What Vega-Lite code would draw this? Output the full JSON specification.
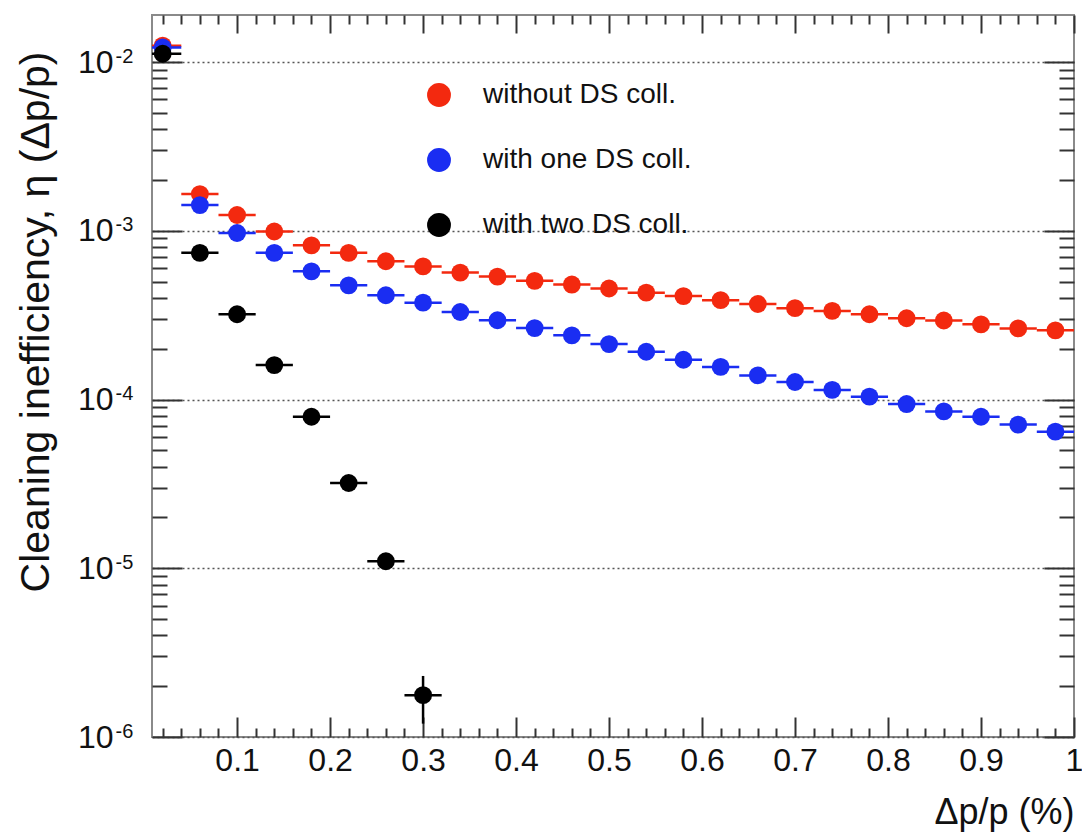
{
  "$schema": "https://vega.github.io/schema/vega-lite/v6.json",
  "width": 922,
  "height": 722,
  "autosize": "none",
  "padding": {"left": 152, "top": 15, "right": 8, "bottom": 99},
  "background": "white",
  "config": {
    "view": {"stroke": "#8a8a8a", "strokeWidth": 2},
    "font": "Liberation Sans",
    "axis": {"domain": false, "grid": false, "labelFont": "Liberation Sans", "titleFont": "Liberation Sans", "labelColor": "#111", "titleColor": "#111", "tickColor": "#333", "tickWidth": 2, "titleFontWeight": "normal"},
    "legend": {"orient": "none", "legendX": 273, "legendY": 66, "title": null, "direction": "vertical", "symbolType": "circle", "symbolSize": 570, "symbolStrokeWidth": 0, "labelFontSize": 28, "labelLimit": 500, "labelFont": "Liberation Sans", "labelColor": "#111", "labelOffset": 30, "rowPadding": 37, "padding": 0}
  },
  "data": {"values": [
    {"series": "without DS coll.", "x": 0.02, "y": 0.0125, "xlo": 0.0, "xhi": 0.04},
    {"series": "without DS coll.", "x": 0.06, "y": 0.00165, "xlo": 0.04, "xhi": 0.08},
    {"series": "without DS coll.", "x": 0.10, "y": 0.00124, "xlo": 0.08, "xhi": 0.12},
    {"series": "without DS coll.", "x": 0.14, "y": 0.00099, "xlo": 0.12, "xhi": 0.16},
    {"series": "without DS coll.", "x": 0.18, "y": 0.00082, "xlo": 0.16, "xhi": 0.20},
    {"series": "without DS coll.", "x": 0.22, "y": 0.00074, "xlo": 0.20, "xhi": 0.24},
    {"series": "without DS coll.", "x": 0.26, "y": 0.00066, "xlo": 0.24, "xhi": 0.28},
    {"series": "without DS coll.", "x": 0.30, "y": 0.000615, "xlo": 0.28, "xhi": 0.32},
    {"series": "without DS coll.", "x": 0.34, "y": 0.000565, "xlo": 0.32, "xhi": 0.36},
    {"series": "without DS coll.", "x": 0.38, "y": 0.000535, "xlo": 0.36, "xhi": 0.40},
    {"series": "without DS coll.", "x": 0.42, "y": 0.000505, "xlo": 0.40, "xhi": 0.44},
    {"series": "without DS coll.", "x": 0.46, "y": 0.00048, "xlo": 0.44, "xhi": 0.48},
    {"series": "without DS coll.", "x": 0.50, "y": 0.000455, "xlo": 0.48, "xhi": 0.52},
    {"series": "without DS coll.", "x": 0.54, "y": 0.00043, "xlo": 0.52, "xhi": 0.56},
    {"series": "without DS coll.", "x": 0.58, "y": 0.00041, "xlo": 0.56, "xhi": 0.60},
    {"series": "without DS coll.", "x": 0.62, "y": 0.000388, "xlo": 0.60, "xhi": 0.64},
    {"series": "without DS coll.", "x": 0.66, "y": 0.000368, "xlo": 0.64, "xhi": 0.68},
    {"series": "without DS coll.", "x": 0.70, "y": 0.000348, "xlo": 0.68, "xhi": 0.72},
    {"series": "without DS coll.", "x": 0.74, "y": 0.000335, "xlo": 0.72, "xhi": 0.76},
    {"series": "without DS coll.", "x": 0.78, "y": 0.00032, "xlo": 0.76, "xhi": 0.80},
    {"series": "without DS coll.", "x": 0.82, "y": 0.000303, "xlo": 0.80, "xhi": 0.84},
    {"series": "without DS coll.", "x": 0.86, "y": 0.000294, "xlo": 0.84, "xhi": 0.88},
    {"series": "without DS coll.", "x": 0.90, "y": 0.000279, "xlo": 0.88, "xhi": 0.92},
    {"series": "without DS coll.", "x": 0.94, "y": 0.000264, "xlo": 0.92, "xhi": 0.96},
    {"series": "without DS coll.", "x": 0.98, "y": 0.000257, "xlo": 0.96, "xhi": 1.0},
    {"series": "with one DS coll.", "x": 0.02, "y": 0.0122, "xlo": 0.0, "xhi": 0.04},
    {"series": "with one DS coll.", "x": 0.06, "y": 0.00142, "xlo": 0.04, "xhi": 0.08},
    {"series": "with one DS coll.", "x": 0.10, "y": 0.00097, "xlo": 0.08, "xhi": 0.12},
    {"series": "with one DS coll.", "x": 0.14, "y": 0.00074, "xlo": 0.12, "xhi": 0.16},
    {"series": "with one DS coll.", "x": 0.18, "y": 0.000575, "xlo": 0.16, "xhi": 0.20},
    {"series": "with one DS coll.", "x": 0.22, "y": 0.000475, "xlo": 0.20, "xhi": 0.24},
    {"series": "with one DS coll.", "x": 0.26, "y": 0.000415, "xlo": 0.24, "xhi": 0.28},
    {"series": "with one DS coll.", "x": 0.30, "y": 0.000375, "xlo": 0.28, "xhi": 0.32},
    {"series": "with one DS coll.", "x": 0.34, "y": 0.00033, "xlo": 0.32, "xhi": 0.36},
    {"series": "with one DS coll.", "x": 0.38, "y": 0.000295, "xlo": 0.36, "xhi": 0.40},
    {"series": "with one DS coll.", "x": 0.42, "y": 0.000265, "xlo": 0.40, "xhi": 0.44},
    {"series": "with one DS coll.", "x": 0.46, "y": 0.00024, "xlo": 0.44, "xhi": 0.48},
    {"series": "with one DS coll.", "x": 0.50, "y": 0.000213, "xlo": 0.48, "xhi": 0.52},
    {"series": "with one DS coll.", "x": 0.54, "y": 0.000192, "xlo": 0.52, "xhi": 0.56},
    {"series": "with one DS coll.", "x": 0.58, "y": 0.000172, "xlo": 0.56, "xhi": 0.60},
    {"series": "with one DS coll.", "x": 0.62, "y": 0.000156, "xlo": 0.60, "xhi": 0.64},
    {"series": "with one DS coll.", "x": 0.66, "y": 0.000139, "xlo": 0.64, "xhi": 0.68},
    {"series": "with one DS coll.", "x": 0.70, "y": 0.000127, "xlo": 0.68, "xhi": 0.72},
    {"series": "with one DS coll.", "x": 0.74, "y": 0.000114, "xlo": 0.72, "xhi": 0.76},
    {"series": "with one DS coll.", "x": 0.78, "y": 0.000104, "xlo": 0.76, "xhi": 0.80},
    {"series": "with one DS coll.", "x": 0.82, "y": 0.000094, "xlo": 0.80, "xhi": 0.84},
    {"series": "with one DS coll.", "x": 0.86, "y": 0.000085, "xlo": 0.84, "xhi": 0.88},
    {"series": "with one DS coll.", "x": 0.90, "y": 0.000079, "xlo": 0.88, "xhi": 0.92},
    {"series": "with one DS coll.", "x": 0.94, "y": 0.000071, "xlo": 0.92, "xhi": 0.96},
    {"series": "with one DS coll.", "x": 0.98, "y": 0.0000645, "xlo": 0.96, "xhi": 1.0},
    {"series": "with two DS coll.", "x": 0.02, "y": 0.0112, "xlo": 0.0, "xhi": 0.04},
    {"series": "with two DS coll.", "x": 0.06, "y": 0.00074, "xlo": 0.04, "xhi": 0.08},
    {"series": "with two DS coll.", "x": 0.10, "y": 0.00032, "xlo": 0.08, "xhi": 0.12},
    {"series": "with two DS coll.", "x": 0.14, "y": 0.00016, "xlo": 0.12, "xhi": 0.16},
    {"series": "with two DS coll.", "x": 0.18, "y": 0.000079, "xlo": 0.16, "xhi": 0.20},
    {"series": "with two DS coll.", "x": 0.22, "y": 0.000032, "xlo": 0.20, "xhi": 0.24},
    {"series": "with two DS coll.", "x": 0.26, "y": 0.000011, "xlo": 0.24, "xhi": 0.28},
    {"series": "with two DS coll.", "x": 0.30, "y": 0.00000177, "xlo": 0.28, "xhi": 0.32, "ylo": 0.0000012, "yhi": 0.0000023}
  ]},
  "layer": [
    {
      "transform": [{"filter": "datum.series === 'without DS coll.'"}],
      "mark": {"type": "rule", "strokeWidth": 2.5, "clip": true, "color": "#f3290f"},
      "encoding": {
        "x": {"field": "xlo", "type": "quantitative", "scale": {"domain": [0.0085, 1], "nice": false, "zero": false},
          "axis": {"orient": "bottom", "values": [0.1, 0.2, 0.3, 0.4, 0.5, 0.6, 0.7, 0.8, 0.9, 1], "format": "~g", "ticks": false, "tickSize": 0, "labelFlush": false, "labelFontSize": 32, "labelPadding": 8, "title": "Δp/p (%)", "titleFontSize": 36, "titleAlign": "right", "titleAnchor": "end", "titleX": 922, "titleY": 86, "titleBaseline": "alphabetic"}},
        "x2": {"field": "xhi"},
        "y": {"field": "y", "type": "quantitative", "scale": {"type": "log", "domain": [0.000001, 0.019], "nice": false},
          "axis": {"orient": "left", "values": [0.000001, 0.00001, 0.0001, 0.001, 0.01], "labelExpr": "'10'", "ticks": false, "tickSize": 0, "labelFontSize": 32, "labelPadding": 39, "labelAlign": "right", "labelBaseline": "middle", "grid": true, "gridDash": [2, 3], "gridColor": "#555", "gridWidth": 1.3,
            "title": "Cleaning inefficiency, η (Δp/p)", "titleFontSize": 41, "titleAngle": 270, "titleAlign": "right", "titleAnchor": "end", "titleX": -104, "titleY": 36, "titleBaseline": "alphabetic"}}
      }
    },
    {
      "transform": [{"filter": "datum.series === 'without DS coll.'"}],
      "mark": {"type": "point", "shape": "circle", "filled": true, "size": 320, "opacity": 1},
      "encoding": {
        "x": {"field": "x", "type": "quantitative", "scale": {"domain": [0.0085, 1], "nice": false, "zero": false},
          "axis": {"orient": "bottom", "values": [0.1, 0.2, 0.3, 0.4, 0.5, 0.6, 0.7, 0.8, 0.9, 1], "labels": false, "tickSize": 20, "offset": -20, "title": null}},
        "y": {"field": "y", "type": "quantitative", "scale": {"type": "log", "domain": [0.000001, 0.019], "nice": false},
          "axis": {"orient": "left", "values": [0.000001, 0.00001, 0.0001, 0.001, 0.01], "labelExpr": "'-' + round(-log(datum.value) / LN10)", "ticks": false, "tickSize": 0, "labelFontSize": 20, "labelPadding": 37, "labelAlign": "left", "labelBaseline": "alphabetic", "labelDy": 0, "title": null}},
        "color": {"field": "series", "type": "nominal",
          "scale": {"domain": ["without DS coll.", "with one DS coll.", "with two DS coll."], "range": ["#f3290f", "#1a2df2", "#000000"]},
          "legend": {"orient": "none", "legendX": 273, "legendY": 66, "title": null, "symbolType": "circle", "symbolSize": 570, "symbolStrokeWidth": 0, "labelFontSize": 28, "labelLimit": 500, "labelOffset": 30, "rowPadding": 37, "padding": 0}}
      }
    },
    {
      "transform": [{"filter": "datum.series === 'with one DS coll.'"}],
      "mark": {"type": "rule", "strokeWidth": 2.5, "clip": true, "color": "#1a2df2"},
      "encoding": {
        "x": {"field": "xlo", "type": "quantitative", "scale": {"domain": [0.0085, 1], "nice": false, "zero": false},
          "axis": {"orient": "bottom", "values": [0.02, 0.04, 0.06, 0.08, 0.12, 0.14, 0.16, 0.18, 0.22, 0.24, 0.26, 0.28, 0.32, 0.34, 0.36, 0.38, 0.42, 0.44, 0.46, 0.48, 0.52, 0.54, 0.56, 0.58, 0.62, 0.64, 0.66, 0.68, 0.72, 0.74, 0.76, 0.78, 0.82, 0.84, 0.86, 0.88, 0.92, 0.94, 0.96, 0.98], "labels": false, "tickSize": 9, "offset": -9, "title": null}},
        "x2": {"field": "xhi"},
        "y": {"field": "y", "type": "quantitative", "scale": {"type": "log", "domain": [0.000001, 0.019], "nice": false},
          "axis": {"orient": "left", "values": [0.000001, 0.00001, 0.0001, 0.001, 0.01], "labels": false, "tickSize": 30, "offset": -30, "title": null}}
      }
    },
    {
      "transform": [{"filter": "datum.series === 'with one DS coll.'"}],
      "mark": {"type": "point", "shape": "circle", "filled": true, "size": 320, "opacity": 1},
      "encoding": {
        "x": {"field": "x", "type": "quantitative", "scale": {"domain": [0.0085, 1], "nice": false, "zero": false},
          "axis": {"orient": "top", "values": [0.1, 0.2, 0.3, 0.4, 0.5, 0.6, 0.7, 0.8, 0.9, 1], "labels": false, "tickSize": 18, "offset": -18, "title": null}},
        "y": {"field": "y", "type": "quantitative", "scale": {"type": "log", "domain": [0.000001, 0.019], "nice": false},
          "axis": {"orient": "left", "values": [0.000002, 0.000003, 0.000004, 0.000005, 0.000006, 0.000007, 0.000008, 0.000009, 0.00002, 0.00003, 0.00004, 0.00005, 0.00006, 0.00007, 0.00008, 0.00009, 0.0002, 0.0003, 0.0004, 0.0005, 0.0006, 0.0007, 0.0008, 0.0009, 0.002, 0.003, 0.004, 0.005, 0.006, 0.007, 0.008, 0.009], "labels": false, "tickSize": 15, "offset": -15, "title": null}},
        "color": {"field": "series", "type": "nominal",
          "scale": {"domain": ["without DS coll.", "with one DS coll.", "with two DS coll."], "range": ["#f3290f", "#1a2df2", "#000000"]},
          "legend": {"orient": "none", "legendX": 273, "legendY": 66, "title": null, "symbolType": "circle", "symbolSize": 570, "symbolStrokeWidth": 0, "labelFontSize": 28, "labelLimit": 500, "labelOffset": 30, "rowPadding": 37, "padding": 0}}
      }
    },
    {
      "transform": [{"filter": "datum.series === 'with two DS coll.'"}],
      "mark": {"type": "rule", "strokeWidth": 2.5, "clip": true, "color": "#000000"},
      "encoding": {
        "x": {"field": "xlo", "type": "quantitative", "scale": {"domain": [0.0085, 1], "nice": false, "zero": false},
          "axis": {"orient": "top", "values": [0.02, 0.04, 0.06, 0.08, 0.12, 0.14, 0.16, 0.18, 0.22, 0.24, 0.26, 0.28, 0.32, 0.34, 0.36, 0.38, 0.42, 0.44, 0.46, 0.48, 0.52, 0.54, 0.56, 0.58, 0.62, 0.64, 0.66, 0.68, 0.72, 0.74, 0.76, 0.78, 0.82, 0.84, 0.86, 0.88, 0.92, 0.94, 0.96, 0.98], "labels": false, "tickSize": 9, "offset": -9, "title": null}},
        "x2": {"field": "xhi"},
        "y": {"field": "y", "type": "quantitative", "scale": {"type": "log", "domain": [0.000001, 0.019], "nice": false},
          "axis": {"orient": "right", "values": [0.000001, 0.00001, 0.0001, 0.001, 0.01], "labels": false, "tickSize": 30, "offset": -30, "title": null}}
      }
    },
    {
      "transform": [{"filter": "datum.series === 'with two DS coll.' && isValid(datum.ylo)"}],
      "mark": {"type": "rule", "strokeWidth": 2.5, "clip": true, "color": "#000000"},
      "encoding": {
        "x": {"field": "x", "type": "quantitative", "scale": {"domain": [0.0085, 1], "nice": false, "zero": false}, "axis": null},
        "y": {"field": "ylo", "type": "quantitative", "scale": {"type": "log", "domain": [0.000001, 0.019], "nice": false},
          "axis": {"orient": "right", "values": [0.000002, 0.000003, 0.000004, 0.000005, 0.000006, 0.000007, 0.000008, 0.000009, 0.00002, 0.00003, 0.00004, 0.00005, 0.00006, 0.00007, 0.00008, 0.00009, 0.0002, 0.0003, 0.0004, 0.0005, 0.0006, 0.0007, 0.0008, 0.0009, 0.002, 0.003, 0.004, 0.005, 0.006, 0.007, 0.008, 0.009], "labels": false, "tickSize": 15, "offset": -15, "title": null}},
        "y2": {"field": "yhi"}
      }
    },
    {
      "transform": [{"filter": "datum.series === 'with two DS coll.'"}],
      "mark": {"type": "point", "shape": "circle", "filled": true, "size": 320, "opacity": 1},
      "encoding": {
        "x": {"field": "x", "type": "quantitative", "scale": {"domain": [0.0085, 1], "nice": false, "zero": false}, "axis": null},
        "y": {"field": "y", "type": "quantitative", "scale": {"type": "log", "domain": [0.000001, 0.019], "nice": false}, "axis": null},
        "color": {"field": "series", "type": "nominal",
          "scale": {"domain": ["without DS coll.", "with one DS coll.", "with two DS coll."], "range": ["#f3290f", "#1a2df2", "#000000"]},
          "legend": {"orient": "none", "legendX": 273, "legendY": 66, "title": null, "symbolType": "circle", "symbolSize": 570, "symbolStrokeWidth": 0, "labelFontSize": 28, "labelLimit": 500, "labelOffset": 30, "rowPadding": 37, "padding": 0}}
      }
    }
  ],
  "resolve": {"axis": {"x": "independent", "y": "independent"}}
}
